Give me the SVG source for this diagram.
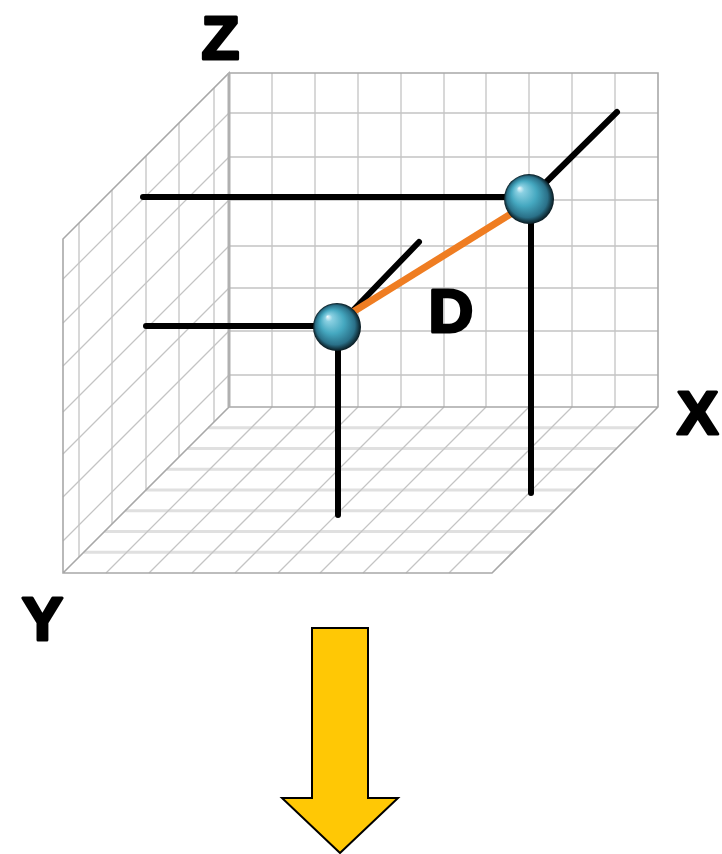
<svg xmlns="http://www.w3.org/2000/svg" width="722" height="854" viewBox="0 0 722 854">
<style>
.g{stroke:#c4c4c4;stroke-width:1.3;fill:none}
.gf{stroke:#e0e0e0;stroke-width:3;fill:none}
.ge{stroke:#a8a8a8;stroke-width:1.6;fill:none}
.bl{stroke:#000;stroke-width:6;stroke-linecap:round;fill:none}
.lbl{font-family:"Liberation Sans",Arial,sans-serif;font-weight:bold;font-size:62px;fill:#000;stroke:#000;stroke-width:3;stroke-linejoin:round}
</style>
<defs>
<radialGradient id="sph" cx="0.5" cy="0.5" r="0.5" fx="0.3" fy="0.28">
<stop offset="0" stop-color="#f2fbff"/>
<stop offset="0.15" stop-color="#8ad0e2"/>
<stop offset="0.5" stop-color="#45a8c0"/>
<stop offset="0.82" stop-color="#2a7088"/>
<stop offset="1" stop-color="#08181e"/>
</radialGradient>
</defs>
<rect width="722" height="854" fill="#fff"/>
<g id="grid">
<g id="floor">
<path class="gf" d="M208.25 427.75H637.25M187.5 448.5H616.5M166.75 469.25H595.75M146 490H575M125.25 510.75H554.25M104.5 531.5H533.5M83.75 552.25H512.75"/>
<path class="g" d="M272 407L106 573M315 407L149 573M358 407L192 573M401 407L235 573M444 407L278 573M486 407L320 573M529 407L363 573M572 407L406 573M615 407L449 573"/>
</g>
<g id="back-wall">
<path class="g" d="M272 73V407M315 73V407M358 73V407M401 73V407M444 73V407M486 73V407M529 73V407M572 73V407M615 73V407"/>
<path class="g" d="M229 113H658M229 157H658M229 200H658M229 246H658M229 288H658M229 331H658M229 375H658"/>
</g>
<g id="left-wall">
<path class="g" d="M79 223V557M112 190V524M146 156V490M179 123V457M214 88V422"/>
<path class="g" d="M229 113L63 279M229 157L63 323M229 200L63 366M229 246L63 412M229 288L63 454M229 331L63 497M229 375L63 541"/>
</g>
<path class="ge" d="M229 73H658V407L492 573H63V239L229 73V407H658M229 407L63 573"/>
<path d="M229 73V407" stroke="#b0b0b0" stroke-width="3"/>
</g>
<g id="connectors">
<line class="bl" x1="143" y1="197" x2="529" y2="197"/>
<line class="bl" x1="529" y1="199" x2="617" y2="112"/>
<line class="bl" x1="531" y1="199" x2="531" y2="493"/>
<line class="bl" x1="146" y1="326" x2="337" y2="326"/>
<line class="bl" x1="337" y1="327" x2="419" y2="242"/>
<line class="bl" x1="338" y1="327" x2="338" y2="515"/>
<line x1="340" y1="320" x2="522" y2="207" stroke="#ef7d22" stroke-width="7"/>
</g>
<g id="point-b">
<circle cx="529" cy="199" r="25" fill="url(#sph)"/>
</g>
<g id="point-a">
<circle cx="337" cy="327" r="24" fill="url(#sph)"/>
</g>
<g id="labels">
<text class="lbl" x="220.5" y="58.5" text-anchor="middle">Z</text>
<text class="lbl" x="42.5" y="639.5" text-anchor="middle">Y</text>
<text class="lbl" x="677" y="433.5">X</text>
<text class="lbl" x="451" y="331.5" text-anchor="middle">D</text>
</g>
<g id="arrow">
<polygon points="312,628 368,628 368,798 398,798 340,853 282,798 312,798" fill="#ffc805" stroke="#000" stroke-width="2" stroke-linejoin="miter"/>
</g>
</svg>
